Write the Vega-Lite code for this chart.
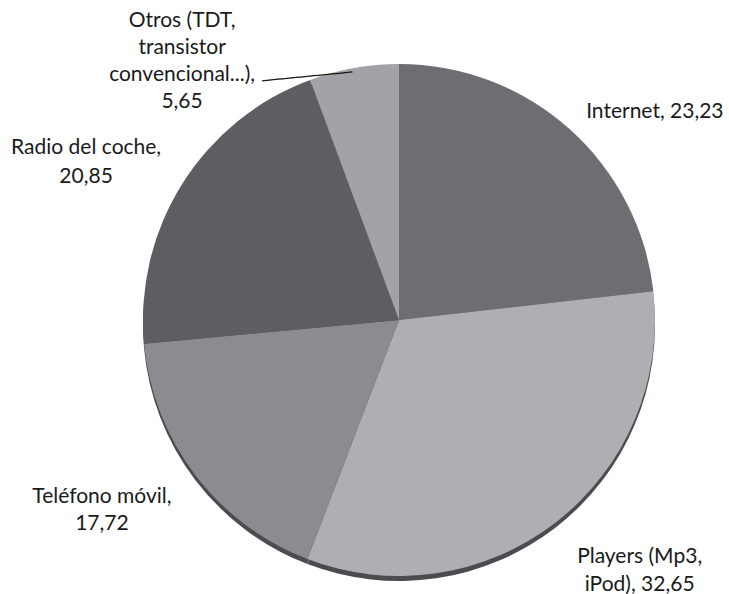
{
  "$schema": "https://vega.github.io/schema/vega-lite/v6.json",
  "autosize": "none",
  "width": 660,
  "height": 552,
  "padding": {"left": 69, "top": 44, "right": 0, "bottom": 0},
  "background": "white",
  "view": {"stroke": null},
  "data": {"values": [
    {"cat": "Internet", "value": 23.23, "order": 1, "label": "Internet, 23,23"},
    {"cat": "Players", "value": 32.65, "order": 2, "label": "Players (Mp3,\niPod), 32,65"},
    {"cat": "Teléfono móvil", "value": 17.72, "order": 3, "label": "Teléfono móvil,\n17,72"},
    {"cat": "Radio del coche", "value": 20.85, "order": 4, "label": "Radio del coche,\n20,85"},
    {"cat": "Otros", "value": 5.65, "order": 5, "label": "Otros (TDT,\ntransistor\nconvencional...),\n5,65"}
  ]},
  "encoding": {
    "theta": {"field": "value", "type": "quantitative", "stack": true},
    "order": {"field": "order", "type": "quantitative", "sort": "ascending"}
  },
  "layer": [
    {
      "mark": {"type": "arc", "outerRadius": 256, "yOffset": 5, "color": "#4b4c50"},
      "encoding": {}
    },
    {
      "mark": {"type": "arc", "outerRadius": 256},
      "encoding": {
        "color": {"field": "cat", "type": "nominal", "legend": null,
          "scale": {"domain": ["Internet", "Players", "Teléfono móvil", "Radio del coche", "Otros"],
                    "range": ["#6d6e72", "#adafb2", "#8b8c90", "#5d5e62", "#a1a3a7"]}}
      }
    },
    {
      "mark": {"type": "text", "radius": 300, "dx": 56, "dy": 16, "lineBreak": "\n", "lineHeight": 28, "fontSize": 21, "font": "Lato", "color": "#1a1a1a", "align": "center", "baseline": "middle"},
      "encoding": {"text": {"condition": {"test": "datum.cat === 'Internet'", "field": "label"}, "value": ""}}
    },
    {
      "mark": {"type": "text", "radius": 300, "dx": 57, "dy": 0, "lineBreak": "\n", "lineHeight": 28, "fontSize": 21, "font": "Lato", "color": "#1a1a1a", "align": "center", "baseline": "middle"},
      "encoding": {"text": {"condition": {"test": "datum.cat === 'Players'", "field": "label"}, "value": ""}}
    },
    {
      "mark": {"type": "text", "radius": 300, "dx": -58, "dy": -4, "lineBreak": "\n", "lineHeight": 27, "fontSize": 21, "font": "Lato", "color": "#1a1a1a", "align": "center", "baseline": "middle"},
      "encoding": {"text": {"condition": {"test": "datum.cat === 'Teléfono móvil'", "field": "label"}, "value": ""}}
    },
    {
      "mark": {"type": "text", "radius": 300, "dx": -59, "dy": -12, "lineBreak": "\n", "lineHeight": 29, "fontSize": 21, "font": "Lato", "color": "#1a1a1a", "align": "center", "baseline": "middle"},
      "encoding": {"text": {"condition": {"test": "datum.cat === 'Radio del coche'", "field": "label"}, "value": ""}}
    },
    {
      "mark": {"type": "text", "radius": 300, "dx": -164, "dy": -4, "lineBreak": "\n", "lineHeight": 27, "fontSize": 21, "font": "Lato", "color": "#1a1a1a", "align": "center", "baseline": "middle"},
      "encoding": {"text": {"condition": {"test": "datum.cat === 'Otros'", "field": "label"}, "value": ""}}
    },
    {
      "mark": {"type": "text", "radius": 258, "dx": -47, "dy": 6, "angle": -5.6, "fontSize": 15, "font": "DejaVu Sans Mono", "color": "#1a1a1a", "align": "center", "baseline": "middle"},
      "encoding": {"text": {"condition": {"test": "datum.cat === 'Otros'", "value": "──────────"}, "value": ""}}
    }
  ]
}
